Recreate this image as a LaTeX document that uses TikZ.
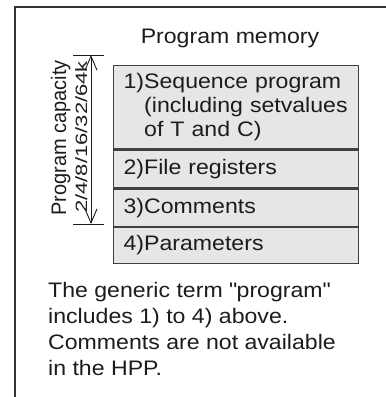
\documentclass[tikz,border=0pt]{standalone}
\usepackage{fontspec}
\setmainfont[FakeStretch=1.1]{Liberation Sans}
\newfontfamily\uprightfont{Liberation Sans}
\usetikzlibrary{arrows.meta, positioning}
\definecolor{FrameGray}{HTML}{333333}
\definecolor{RowFill}{HTML}{E6E6E6}
\definecolor{RowLine}{HTML}{404040}
\definecolor{InkGray}{HTML}{1C1C1C}

\begin{document}
\begin{tikzpicture}[x=1pt, y=-1pt,
  memrow/.style={draw=RowLine, fill=RowFill, line width=1.3pt, minimum width=245pt, text width=225pt, inner xsep=10pt, inner ysep=0pt, align=left, text=InkGray, font=\fontsize{21}{24}\selectfont},
  dimline/.style={InkGray, line width=0.9pt},
  sidelabel/.style={rotate=90, anchor=base, text=InkGray, inner sep=0pt, font=\uprightfont\fontsize{20}{20}\selectfont},
  caption/.style={text=InkGray, inner sep=0pt, font=\fontsize{21}{26}\selectfont}]
  \useasboundingbox (0,0) rectangle (386,397);
  \draw[FrameGray, line width=1.2pt] (15,397) -- (15,7) -- (386,7);

  \node[caption, anchor=base] (title) at (230,43) {Program memory};
  \node[memrow, minimum height=83pt, anchor=north west] (seq) at (113,65) {1)Sequence program\\\phantom{1)}(including setvalues\\\phantom{1)}of T and C)};
  \node[memrow, minimum height=38pt, below=0pt of seq] (filereg) {2)File registers};
  \node[memrow, minimum height=37pt, below=0pt of filereg] (comments) {3)Comments};
  \node[memrow, minimum height=36pt, below=0pt of comments] (params) {4)Parameters};

  \coordinate (captop) at (91,55);
  \coordinate (capbot) at (91,224);
  \draw[dimline] ([xshift=-18pt]captop) -- ([xshift=13pt]captop);
  \draw[dimline] ([xshift=-18pt]capbot) -- ([xshift=13pt]capbot);
  \draw[dimline, {Straight Barb[length=14pt, width=12pt]}-{Straight Barb[length=14pt, width=12pt]}] (captop) -- (capbot);
  \node[sidelabel] (capname) at (66,138) {\scalebox{1}[1.05]{Program capacity}};
  \node[sidelabel] (caprange) at (87,137) {\scalebox{1.1}[0.82]{2/4/8/16/32/64k}};

  \node[caption, anchor=north west, align=left] (note) at (48,282) {The generic term \textquotedbl program\textquotedbl\\includes 1) to 4) above.\\Comments are not available\\in the HPP.};
\end{tikzpicture}
\end{document}
